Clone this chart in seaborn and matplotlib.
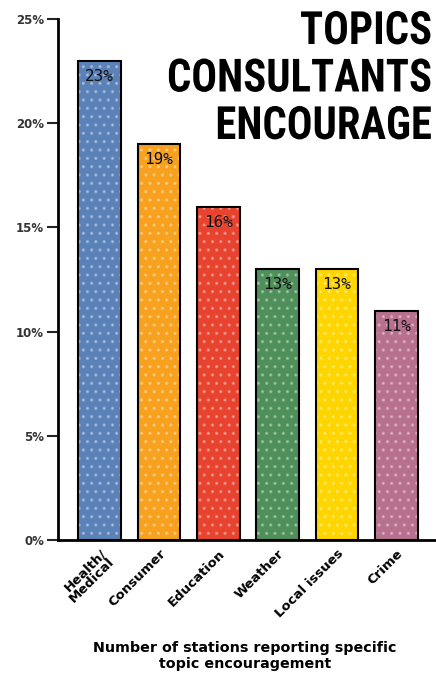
import os
import matplotlib
matplotlib.use("Agg")
import matplotlib.pyplot as plt
import matplotlib.patheffects as pe
from matplotlib import font_manager as fm
from matplotlib.text import Text
from matplotlib.transforms import Affine2D, Bbox
import seaborn as sns
import pandas as pd

categories = ["Health/\nMedical", "Consumer", "Education", "Weather", "Local issues", "Crime"]
values = [23, 19, 16, 13, 13, 11]
colors = ["#5b82b8", "#f7a11f", "#e8432f", "#4e8f5a", "#ffd500", "#b8708f"]
yticks = [0, 5, 10, 15, 20, 25]
title = "TOPICS\nCONSULTANTS\nENCOURAGE"
xlabel = "Number of stations reporting specific\ntopic encouragement"

sns.set_style("white")
plt.rcParams['font.family'] = ['DejaVu Sans']
plt.rcParams['text.color'] = 'black'
plt.rcParams['hatch.linewidth'] = 1.2

X0 = 432          # right edge of title, pixels
TITLE_W = 265     # target width of widest title line, pixels


def pick_condensed():
    fams = ["Roboto Condensed", "Liberation Sans Narrow", "DejaVu Sans Condensed",
            "Noto Sans Condensed", "Open Sans Condensed", "Roboto", "Noto Sans",
            "Open Sans", "DejaVu Sans"]
    for fam in fams:
        for stretch in ["condensed", "normal"]:
            try:
                path = fm.findfont(fm.FontProperties(family=fam, weight="bold", stretch=stretch),
                                   fallback_to_default=False)
            except Exception:
                continue
            n = os.path.basename(path).lower()
            if ("condensed" in n or "narrow" in n or "cond" in n) and "light" not in n:
                return fm.FontProperties(fname=path, size=33)
    return fm.FontProperties(family="DejaVu Sans", weight="bold", size=32)


class Squeeze(pe.AbstractPathEffect):
    """Horizontally condense text about a fixed x (display pixels)."""
    def __init__(self, owner):
        super().__init__()
        self.owner = owner

    def draw_path(self, renderer, gc, tpath, affine, rgbFace=None):
        sx = self.owner.sq
        aff = affine + Affine2D().translate(-X0, 0).scale(sx, 1).translate(X0, 0)
        renderer.draw_path(gc, tpath, aff, rgbFace)


class SqueezedText(Text):
    sq = 1.0

    def raw_extent(self, renderer=None):
        return super().get_window_extent(renderer)

    def get_window_extent(self, renderer=None, dpi=None):
        bb = super().get_window_extent(renderer, dpi)
        x0 = X0 - (X0 - bb.x0) * self.sq
        x1 = X0 - (X0 - bb.x1) * self.sq
        # all-caps text: no descenders below the last line
        px = self.get_fontsize() * self.figure.dpi / 72.0
        return Bbox([[x0, bb.y0 + 0.2 * px], [x1, bb.y1]])


df = pd.DataFrame({"cat": categories, "val": values})

fig = plt.figure(figsize=(4.36, 6.81), dpi=100)
ax = fig.add_axes([58/436, 1-540/681, 1-58/436, (540-19)/681])

sns.barplot(data=df, x="cat", y="val", hue="cat", palette=colors, legend=False,
            width=0.72, edgecolor="black", linewidth=1.5, ax=ax, saturation=1)
for p in ax.patches:
    p.set_hatch("..")
    if hasattr(p, "set_hatchcolor"):
        p.set_hatchcolor((1, 1, 1, 0.3))
    else:
        p._hatch_color = (1, 1, 1, 0.3)

for i, v in enumerate(values):
    ax.text(i, v - 0.4, f"{v}%", ha="center", va="top", fontsize=11.5,
            family="DejaVu Sans Mono", color="#111111")

ax.set_xlim(-0.7, 5.67)
ax.set_ylim(0, 25)
ax.set_yticks(yticks)
ax.set_yticklabels([f"{t}%" for t in yticks], fontsize=8.5, fontweight="bold", color="#333333")
ax.tick_params(axis="y", direction="out", length=8, width=1.5, left=True, pad=2)
ax.tick_params(axis="x", length=0, pad=5)
ax.set_xticks(range(len(categories)))
ax.set_xticklabels(categories, rotation=45, ha="right", rotation_mode="anchor",
                   fontsize=9.5, fontweight="bold", linespacing=0.85, color="black")
ax.set_xlabel("")
ax.set_ylabel("")
sns.despine(ax=ax)
for s in ["left", "bottom"]:
    ax.spines[s].set_linewidth(2)
    ax.spines[s].set_color("black")

fp = pick_condensed()
ttl = SqueezedText(X0/436, 1-9/681, title, ha="right", va="top",
                   fontproperties=fp, color="black", linespacing=1.1,
                   transform=fig.transFigure)
ttl.set_path_effects([Squeeze(ttl)])
fig.add_artist(ttl)

fig.canvas.draw()
raw = ttl.raw_extent(fig.canvas.get_renderer())
ttl.sq = TITLE_W / raw.width

fig.text(245/436, 1-641/681, xlabel, ha="center", va="top", fontsize=10.3,
         fontweight="bold", linespacing=1.2, color="black")

fig.savefig("out.png", dpi=100)
